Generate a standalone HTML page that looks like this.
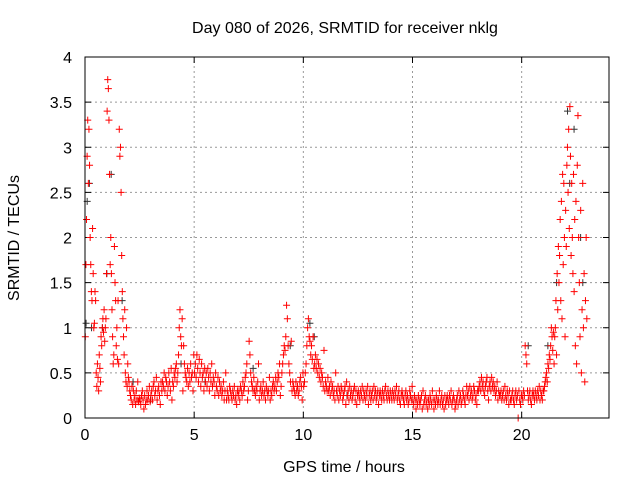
<!DOCTYPE html>
<html><head><meta charset="utf-8"><style>
body{margin:0;background:#fff}
svg{display:block;font-family:"Liberation Sans",sans-serif;font-size:16px}
</style></head><body>
<svg id="chart" width="640" height="480" viewBox="0 0 640 480" xmlns="http://www.w3.org/2000/svg">
<text x="345" y="33" text-anchor="middle">Day 080 of 2026, SRMTID for receiver nklg</text>
<text x="344" y="472" text-anchor="middle">GPS time / hours</text>
<text transform="translate(19,238) rotate(-90)" text-anchor="middle">SRMTID / TECUs</text>
<g id="grid"></g><g id="ticks"></g><g id="gray"></g><g id="red"></g>
<rect x="85" y="57" width="524" height="361" fill="none" stroke="#000" stroke-width="1"/>
</svg>
<script>
const xTicks=[0,5,10,15,20];
const yTicks=[0,0.5,1,1.5,2,2.5,3,3.5,4];
const yTickLabels=["0","0.5","1","1.5","2","2.5","3","3.5","4"];
const BIN=0.5;
const binStarts=[0,0.5,1,1.5,2,2.5,3,3.5,4,4.5,5,5.5,6,6.5,7,7.5,8,8.5,9,9.5,10,10.5,11,11.5,12,12.5,13,13.5,14,14.5,15,15.5,16,16.5,17,17.5,18,18.5,19,19.5,20,20.5,21,21.5,22,22.5];
const redBins=[
[0.9,1.7,2.2,2.9,3.3,2.6,3.2,2.8,2.0,1.7,1.4,1.3,2.1,1.6,1.0,1.05,1.4,1.3],
[0.5,0.35,0.6,0.45,0.3,0.7,0.55,0.4,0.9,0.8,1.0,1.1,0.95,1.2,0.85,1.0,1.1,1.6],
[3.4,3.75,3.65,3.3,2.7,1.7,2.0,1.6,1.2,0.9,0.6,0.7,1.9,1.5,1.3,0.8,1.0,0.65],
[1.3,0.6,3.2,2.9,3.0,2.5,1.8,1.4,1.1,0.9,0.7,1.2,0.5,0.4,1.0,0.35,0.6,0.45],
[0.4,0.3,0.25,0.2,0.35,0.15,0.3,0.2,0.25,0.15,0.3,0.2,0.4,0.18,0.22],
[0.2,0.15,0.25,0.3,0.2,0.1,0.25,0.15,0.2,0.3,0.2,0.25,0.35,0.18],
[0.25,0.3,0.2,0.35,0.4,0.25,0.3,0.45,0.2,0.3,0.35,0.25,0.15,0.4],
[0.3,0.4,0.35,0.5,0.3,0.45,0.4,0.25,0.35,0.5,0.4,0.3,0.55,0.2],
[0.4,0.35,0.5,0.45,0.55,0.6,0.4,0.5,0.7,1.0,1.2,0.9,0.8,1.1,0.3],
[0.8,0.6,0.5,0.45,0.4,0.55,0.35,0.5,0.4,0.6,0.45,0.5,0.3,0.7],
[0.5,0.6,0.45,0.7,0.55,0.4,0.65,0.5,0.35,0.6,0.45,0.5,0.3,0.55],
[0.4,0.5,0.35,0.55,0.45,0.3,0.5,0.4,0.6,0.35,0.45,0.4,0.25,0.5],
[0.35,0.3,0.45,0.25,0.4,0.3,0.35,0.25,0.3,0.4,0.2,0.3,0.5,0.2],
[0.3,0.25,0.2,0.35,0.3,0.25,0.2,0.3,0.25,0.35,0.2,0.25,0.15,0.3],
[0.25,0.3,0.2,0.35,0.3,0.25,0.4,0.3,0.35,0.45,0.5,0.6,0.2,0.3],
[0.85,0.7,0.5,0.4,0.35,0.3,0.45,0.3,0.25,0.35,0.3,0.4,0.6,0.2],
[0.3,0.35,0.25,0.3,0.4,0.25,0.3,0.2,0.35,0.3,0.25,0.3,0.45,0.2],
[0.3,0.25,0.35,0.4,0.3,0.35,0.45,0.3,0.4,0.5,0.45,0.6,0.25,0.35],
[0.5,0.6,0.7,0.8,0.75,0.9,1.25,1.1,0.8,0.6,0.5,0.4,0.85,0.3],
[0.4,0.35,0.3,0.25,0.4,0.3,0.35,0.25,0.3,0.4,0.45,0.35,0.2,0.5],
[0.35,0.4,0.5,0.6,0.8,1.0,1.1,0.9,0.85,0.7,0.8,0.65,0.9,0.55],
[0.6,0.7,0.55,0.65,0.5,0.6,0.45,0.55,0.4,0.5,0.45,0.35,0.75,0.3],
[0.4,0.35,0.3,0.45,0.3,0.35,0.25,0.4,0.3,0.35,0.25,0.3,0.2,0.5],
[0.3,0.25,0.35,0.2,0.3,0.25,0.35,0.3,0.2,0.25,0.3,0.35,0.15,0.4],
[0.25,0.3,0.2,0.35,0.25,0.3,0.2,0.25,0.3,0.35,0.2,0.3,0.15,0.25],
[0.3,0.25,0.2,0.3,0.25,0.35,0.2,0.3,0.25,0.2,0.3,0.25,0.35,0.15],
[0.25,0.3,0.2,0.25,0.3,0.2,0.35,0.25,0.3,0.2,0.25,0.3,0.15,0.25],
[0.3,0.25,0.2,0.3,0.25,0.2,0.3,0.35,0.25,0.2,0.3,0.25,0.2,0.3],
[0.25,0.2,0.3,0.25,0.2,0.3,0.25,0.35,0.2,0.25,0.3,0.2,0.15,0.25],
[0.3,0.25,0.2,0.15,0.25,0.3,0.2,0.25,0.15,0.2,0.3,0.25,0.2,0.35],
[0.2,0.15,0.25,0.2,0.1,0.2,0.15,0.25,0.2,0.15,0.2,0.25,0.1,0.3],
[0.15,0.2,0.25,0.15,0.2,0.1,0.2,0.15,0.25,0.2,0.15,0.3,0.2,0.1],
[0.2,0.15,0.25,0.2,0.15,0.2,0.3,0.15,0.2,0.25,0.15,0.2,0.1,0.25],
[0.15,0.2,0.25,0.2,0.15,0.25,0.2,0.3,0.15,0.2,0.25,0.2,0.1,0.15],
[0.2,0.25,0.15,0.3,0.2,0.25,0.15,0.2,0.3,0.25,0.2,0.15,0.25,0.35],
[0.25,0.3,0.2,0.35,0.25,0.3,0.2,0.25,0.35,0.3,0.2,0.25,0.15,0.3],
[0.3,0.35,0.4,0.3,0.45,0.35,0.4,0.3,0.25,0.35,0.4,0.45,0.3,0.2],
[0.35,0.4,0.3,0.45,0.35,0.4,0.3,0.35,0.25,0.3,0.4,0.2,0.3,0.25],
[0.25,0.3,0.2,0.25,0.3,0.2,0.35,0.25,0.2,0.3,0.25,0.15,0.3,0.2],
[0.2,0.25,0.3,0.2,0.15,0.25,0.3,0.2,0.25,0.0,0.3,0.2,0.15,0.25],
[0.25,0.2,0.3,0.25,0.8,0.7,0.6,0.3,0.2,0.25,0.3,0.2,0.15,0.25],
[0.3,0.25,0.2,0.3,0.25,0.2,0.3,0.25,0.35,0.2,0.3,0.25,0.2,0.3],
[0.3,0.35,0.4,0.45,0.5,0.4,0.6,0.55,0.7,0.65,0.8,1.0,0.9,0.75,0.95,0.6],
[0.9,1.0,1.3,0.7,1.6,1.2,1.9,1.5,1.8,2.2,1.3,2.4,1.1,2.7,1.7,2.6,2.0,0.9],
[2.3,1.9,2.8,3.0,2.5,3.2,2.1,3.45,2.9,1.8,2.6,2.0,1.6,2.7,1.4,2.2,0.8,2.4],
[0.6,2.8,3.35,2.0,1.5,0.9,2.3,0.5,1.2,2.6,1.0,1.6,0.4,1.3,2.0,1.1]
];
const grayT=[0.05,0.1,0.2,0.3,0.8,1.0,1.2,1.7,2.2,3.0,4.4,5.5,7.7,9.4,10.3,10.5,12.0,20.3,21.2,21.6,22.1,22.2,22.4,22.7,22.8];
const grayV=[1.05,2.4,2.6,1.0,1.0,1.6,2.7,1.3,0.4,0.2,0.6,0.4,0.55,0.8,1.05,0.9,0.25,0.8,0.8,1.5,3.4,2.6,3.2,2.0,1.5];
const X0=85,X1=609,Y0=418,Y1=57,XMAX=24,YMAX=4;
const sx=v=>X0+(X1-X0)*v/XMAX, sy=v=>Y0-(Y0-Y1)*v/YMAX;
const NS="http://www.w3.org/2000/svg";
function mk(tag,attrs,parent){const e=document.createElementNS(NS,tag);for(const k in attrs)e.setAttribute(k,attrs[k]);document.getElementById(parent).appendChild(e);return e;}
xTicks.forEach(t=>{
 const x=sx(t);
 if(t>0){const g=mk('line',{x1:x,x2:x,y1:Y0,y2:Y1,stroke:'#999','stroke-dasharray':'2,3'},'grid');
 
 }
 const tl=mk('text',{x:x,y:Y0+22,'text-anchor':'middle'},'ticks');tl.textContent=String(t);
 
 
 mk('line',{x1:x,x2:x,y1:Y0,y2:Y0-6,stroke:'#000'},'ticks');
 mk('line',{x1:x,x2:x,y1:Y1,y2:Y1+6,stroke:'#000'},'ticks');
});
yTicks.forEach((t,i)=>{
 const y=sy(t);
 if(t>0&&t<YMAX){const g=mk('line',{x1:X0,x2:X1,y1:y,y2:y,stroke:'#999','stroke-dasharray':'2,3'},'grid');
 
 }
 const tl=mk('text',{x:X0-13,y:y+6,'text-anchor':'end'},'ticks');tl.textContent=yTickLabels[i];
 
 
 mk('line',{x1:X0,x2:X0+6,y1:y,y2:y,stroke:'#000'},'ticks');
 mk('line',{x1:X1,x2:X1-6,y1:y,y2:y,stroke:'#000'},'ticks');
});
function plus(x,y,c,g){return mk('path',{d:`M${x-3.5},${y}h7M${x},${y-3.5}v7`,stroke:c,'stroke-width':1,fill:'none'},g);}
grayT.forEach((t,i)=>{const p=plus(sx(t),sy(grayV[i]),'#333','gray');
 
 });
binStarts.forEach((b,bi)=>{
 const vals=redBins[bi];
 vals.forEach((v,j)=>{
  const t=b+BIN*(j+0.5)/vals.length;
  const p=plus(sx(t),sy(v),'#f00','red');
  
  
 });
});
</script>
</body></html>
